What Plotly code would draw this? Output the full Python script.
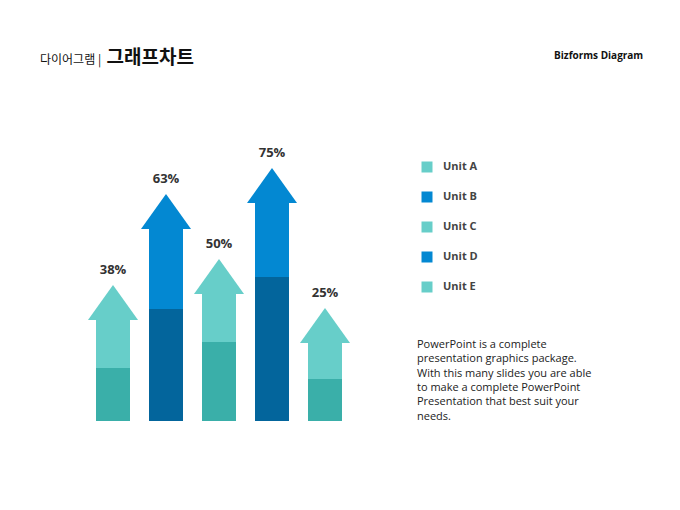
import plotly.graph_objects as go

units = ["Unit A", "Unit B", "Unit C", "Unit D", "Unit E"]
labels = ["38%", "63%", "50%", "75%", "25%"]
tip = [136, 227, 162, 253, 113]      # arrow tip height
lower = [53, 112, 79, 144, 42]       # dark lower segment height
light = ["#67CEC9", "#0388D2", "#67CEC9", "#0388D2", "#67CEC9"]
dark = ["#3AAFA9", "#03659C", "#3AAFA9", "#03659C", "#3AAFA9"]

OX, OY = 8, 8  # page offset compensation
HEAD = 35
HALF = 25 / 53
idx = list(range(len(units)))
fig = go.Figure()
fig.add_bar(x=idx, y=lower, base=[0]*5, width=34/53, marker=dict(color=dark, line_width=0), hoverinfo="skip")
fig.add_bar(x=idx, y=[t - HEAD - l for t, l in zip(tip, lower)], base=lower, width=34/53,
            marker=dict(color=light, line_width=0), hoverinfo="skip")
for i in idx:
    fig.add_scatter(x=[i - HALF, i, i + HALF, i - HALF], y=[tip[i] - HEAD, tip[i], tip[i] - HEAD, tip[i] - HEAD],
                    fill="toself", fillcolor=light[i], mode="lines", line_width=0, hoverinfo="skip")
fig.add_scatter(x=idx, y=[t + 14 for t in tip], mode="text", text=labels,
                textfont=dict(family="Open Sans", size=13, color="#333333"), texttemplate="<b>%{text}</b>")

lx = (427 - 113) / 53
fig.add_scatter(x=[lx]*5, y=[421 - (167 + 30*k) for k in range(5)], mode="markers",
                marker=dict(symbol="square", size=11, color=light), hoverinfo="skip")
fig.add_scatter(x=[lx + 16/53]*5, y=[421 - (167 + 30*k) for k in range(5)], mode="text",
                text=["<b>%s</b>" % u for u in units], textposition="middle right",
                textfont=dict(family="Open Sans", size=11, color="#444444"))

def px(x): return (x - OX) / 680
def py(y): return 1 - (y - OY) / 510

para = ("PowerPoint is a complete<br>presentation graphics package.<br>With this many slides you are able<br>"
        "to make a complete PowerPoint<br>Presentation that best suit your<br>needs.")
fig.add_annotation(xref="paper", yref="paper", x=px(415), y=py(334), xanchor="left", yanchor="top",
                   text=para, showarrow=False, align="left",
                   font=dict(family="Open Sans", size=11, color="#222222"))
fig.add_annotation(xref="paper", yref="paper", x=px(38), y=py(55), xanchor="left", yanchor="middle",
                   text="<span style='font-size:12px'>다이어그램 |  </span><b>그래프차트</b>", showarrow=False,
                   font=dict(family="Noto Sans CJK KR", size=19, color="#111111"))
fig.add_annotation(xref="paper", yref="paper", x=px(645), y=py(55), xanchor="right", yanchor="middle",
                   text="<b>Bizforms Diagram</b>", showarrow=False,
                   font=dict(family="Open Sans", size=10, color="#111111"))

fig.update_layout(width=680, height=510, margin=dict(l=0, r=0, t=0, b=0), showlegend=False,
                  plot_bgcolor="white", paper_bgcolor="white", barmode="overlay",
                  xaxis=dict(range=[(OX-113)/53, (680+OX-113)/53], visible=False, fixedrange=True),
                  yaxis=dict(range=[-89 - OY, 421 - OY], visible=False, fixedrange=True))
fig.write_html("out.html")
